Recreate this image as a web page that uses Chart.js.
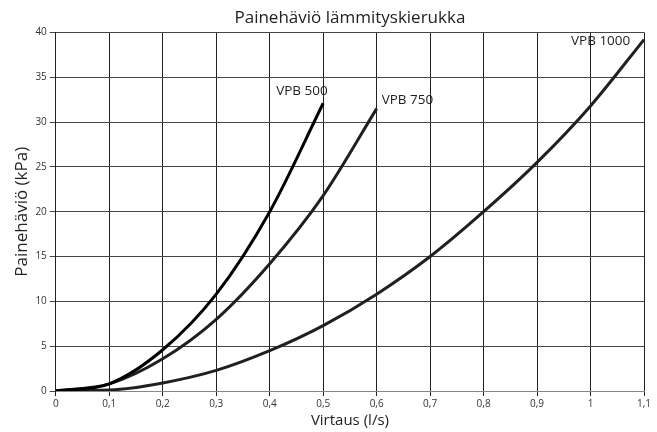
<!DOCTYPE html>
<html>
<head>
<meta charset="utf-8">
<script src="https://cdn.jsdelivr.net/npm/chart.js@4/dist/chart.umd.min.js"></script>
<style>
  html, body { margin: 0; padding: 0; background: #fff; }
  #wrap { width: 657px; height: 432px; position: relative; }
</style>
</head>
<body>
<div id="wrap"><canvas id="c"></canvas></div>
<script>
/* Painehäviö lämmityskierukka — pressure loss curves */

const FLOW = [0, 0.1, 0.2, 0.3, 0.4, 0.5, 0.6, 0.7, 0.8, 0.9, 1.0, 1.1];
const VPB500 = [0, 0.8, 4.6, 10.8, 20.0, 32.1];
const VPB750 = [0, 0.8, 3.6, 8.0, 14.2, 21.8, 31.5];
const VPB1000 = [0, 0.1, 0.9, 2.3, 4.5, 7.3, 10.8, 15.0, 20.0, 25.5, 31.8, 39.2];
const SERIES_NAMES = ['VPB 500', 'VPB 750', 'VPB 1000'];

const FONT = 'Open Sans, DejaVu Sans, sans-serif';
const fmt = v => String(Math.round(v * 10) / 10).replace('.', ',');
const toPts = ys => ys.map((y, i) => ({ x: FLOW[i], y }));

// label offsets relative to the end point of each curve
const LABEL_OFFSET = [[-47, -12], [5, -8], [-73, 2]];

const endLabels = {
  id: 'endLabels',
  afterDatasetsDraw(chart) {
    const { ctx, scales: { x, y } } = chart;
    ctx.save();
    ctx.font = '13.5px ' + FONT;
    ctx.fillStyle = '#222';
    ctx.textBaseline = 'middle';
    ctx.textAlign = 'left';
    chart.data.datasets.forEach((ds, i) => {
      const last = ds.data[ds.data.length - 1];
      ctx.fillText(ds.label, x.getPixelForValue(last.x) + LABEL_OFFSET[i][0], y.getPixelForValue(last.y) + LABEL_OFFSET[i][1]);
    });
    ctx.restore();
  }
};

const line = (label, ys, color) => ({
  label,
  data: toPts(ys),
  showLine: true,
  borderColor: color,
  backgroundColor: 'transparent',
  borderWidth: 3,
  pointRadius: 0,
  cubicInterpolationMode: 'monotone'
});

new Chart(document.getElementById('c'), {
  type: 'scatter',
  data: {
    datasets: [
      line(SERIES_NAMES[0], VPB500, '#000'),
      line(SERIES_NAMES[1], VPB750, '#231f20'),
      line(SERIES_NAMES[2], VPB1000, '#231f20')
    ]
  },
  options: {
    responsive: true,
    maintainAspectRatio: false,
    animation: false,
    layout: { padding: { left: 12, right: 13, top: 0, bottom: 2 } },
    scales: {
      x: {
        type: 'linear',
        min: 0, max: 1.1,
        grid: { color: '#222', lineWidth: 1, drawTicks: true, tickLength: 5 },
        border: { color: '#888' },
        ticks: { stepSize: 0.1, color: '#333', font: { family: FONT, size: 10 }, callback: v => fmt(v), padding: 2 },
        title: { display: true, text: 'Virtaus (l/s)', color: '#222', font: { family: FONT, size: 15 }, padding: { top: 0, bottom: 0 } }
      },
      y: {
        min: 0, max: 40,
        grid: { color: '#444', lineWidth: 1, tickLength: 6 },
        border: { color: '#222' },
        ticks: { stepSize: 5, color: '#333', font: { family: FONT, size: 10 }, padding: 3 },
        title: { display: true, text: 'Painehäviö (kPa)', color: '#222', font: { family: FONT, size: 17 }, padding: { top: 0, bottom: 0 } }
      }
    },
    plugins: {
      legend: { display: false },
      tooltip: { enabled: false },
      title: {
        display: true, fullSize: false,
        text: 'Painehäviö lämmityskierukka', color: '#222',
        font: { family: FONT, size: 17, weight: 'normal' },
        padding: { top: 8, bottom: 4 }
      }
    }
  },
  plugins: [endLabels]
});
</script>
</body>
</html>
